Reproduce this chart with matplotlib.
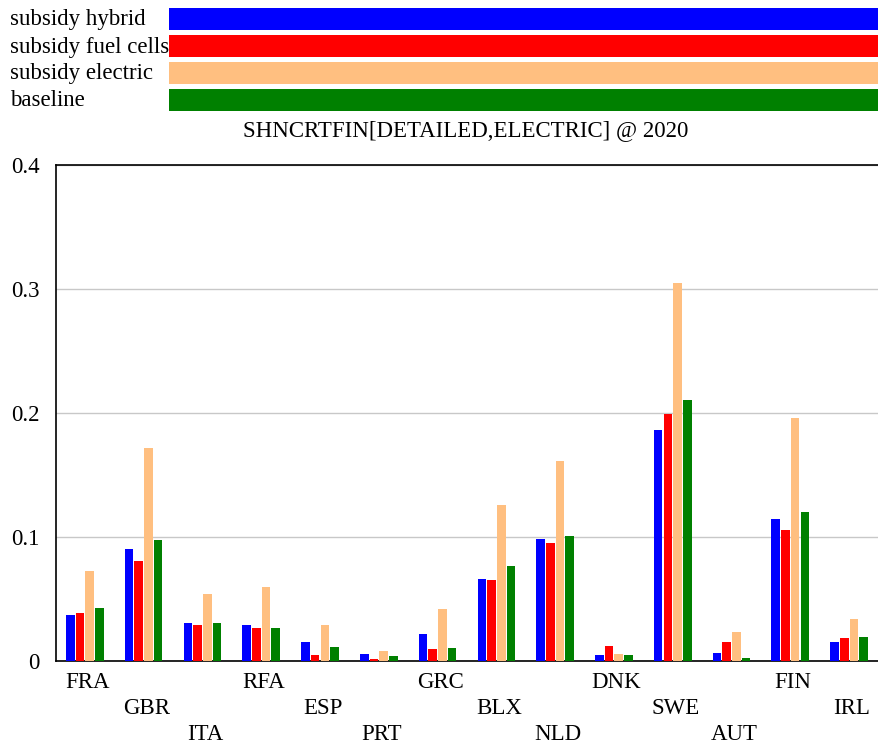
import matplotlib
matplotlib.use("Agg")
import matplotlib.pyplot as plt
import matplotlib.transforms as mtransforms

countries = ["FRA", "GBR", "ITA", "RFA", "ESP", "PRT", "GRC",
             "BLX", "NLD", "DNK", "SWE", "AUT", "FIN", "IRL"]
series_names = ["subsidy hybrid", "subsidy fuel cells", "subsidy electric", "baseline"]
colors = ["#0000ff", "#ff0000", "#ffbf80", "#008000"]

subsidy_hybrid = [0.037, 0.090, 0.031, 0.0288, 0.0151, 0.0059, 0.022,
                  0.0664, 0.0984, 0.0048, 0.186, 0.0062, 0.1143, 0.0151]
subsidy_fuel_cells = [0.039, 0.081, 0.0288, 0.0264, 0.0048, 0.0016, 0.0097,
                      0.0653, 0.095, 0.0118, 0.199, 0.0151, 0.1054, 0.0185]
subsidy_electric = [0.0726, 0.172, 0.054, 0.0597, 0.0288, 0.0083, 0.0417,
                    0.126, 0.161, 0.0059, 0.305, 0.0231, 0.196, 0.0336]
baseline = [0.0425, 0.0975, 0.031, 0.0264, 0.0115, 0.0038, 0.0105,
            0.0769, 0.101, 0.0048, 0.2105, 0.0024, 0.120, 0.0196]
series = [subsidy_hybrid, subsidy_fuel_cells, subsidy_electric, baseline]

title = "SHNCRTFIN[DETAILED,ELECTRIC] @ 2020"
yticks = [0, 0.1, 0.2, 0.3, 0.4]
yticklabels = ["0", "0.1", "0.2", "0.3", "0.4"]

W, H = 879, 748
fig = plt.figure(figsize=(W / 100, H / 100), dpi=100)
serif = "Liberation Serif"
fs = 16.5

# legend rows: label text and a long colour swatch
for k, (name, col) in enumerate(zip(series_names, colors)):
    y0 = 8 + 27 * k
    fig.text(10 / W, 1 - (y0 + 12) / H, name, family=serif, fontsize=fs,
             va="center", ha="left")
    fig.patches.append(plt.Rectangle((169 / W, 1 - (y0 + 22) / H), (W - 169) / W, 22 / H,
                                     transform=fig.transFigure, color=col, lw=0))

fig.text(466 / W, 1 - 131 / H, title, family=serif, fontsize=fs, ha="center", va="center")

# plotting area
left, right, top, bottom = 56, 879, 165, 661
ax = fig.add_axes([left / W, 1 - bottom / H, (right - left) / W, (bottom - top) / H])
n = len(countries)
slot = (right - left) / n
bar_w = 8.6 / slot
step = 9.7 / slot
first = 10 / slot + bar_w / 2
for j, (vals, col) in enumerate(zip(series, colors)):
    xs = [i + first + j * step for i in range(n)]
    ax.bar(xs, vals, width=bar_w, color=col, edgecolor="none", zorder=3)

ax.set_xlim(0, n)
ax.set_ylim(0, 0.4)
ax.set_yticks(yticks)
ax.set_yticklabels(yticklabels, family=serif, fontsize=fs)
ax.tick_params(axis="y", length=0, pad=12)
ax.set_xticks([])
ax.yaxis.grid(True, color="#c8c8c8", lw=1, zorder=0)
ax.spines["right"].set_visible(False)
for s in ["left", "top", "bottom"]:
    ax.spines[s].set_linewidth(1.2)
    ax.spines[s].set_color("black")

# staggered country labels in three rows
trans = mtransforms.blended_transform_factory(ax.transData, fig.transFigure)
row_y = [682, 708, 734]
for i, c in enumerate(countries):
    ax.text(i + 0.5 + 2 / slot, 1 - row_y[i % 3] / H, c, transform=trans, family=serif,
            fontsize=fs, ha="center", va="center", clip_on=False)

fig.savefig("out.png", dpi=100)
